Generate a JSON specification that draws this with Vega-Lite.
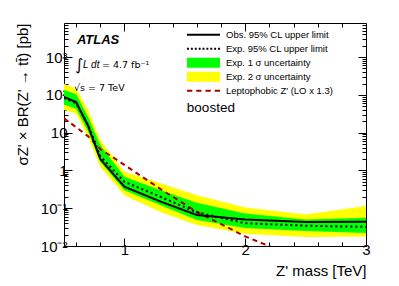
{
  "$schema": "https://vega.github.io/schema/vega-lite/v6.json",
  "width": 302,
  "height": 223,
  "autosize": {"type": "none"},
  "padding": {"left": 64, "top": 23, "right": 33, "bottom": 40},
  "background": "white",
  "config": {
    "font": "Liberation Sans",
    "view": {"stroke": "black", "strokeWidth": 1},
    "axis": {"grid": false, "domain": false, "tickColor": "black", "tickWidth": 1, "tickCount": 100, "labelColor": "black", "labelFont": "Liberation Sans", "labelFontSize": 15, "labelOverlap": false, "titleFont": "Liberation Sans", "titleFontSize": 15, "titleFontWeight": "normal", "titleColor": "black"}
  },
  "datasets": {
    "limits": [
      {"mass": 0.5, "obs": 88, "exp": 82, "g_lo": 55, "g_hi": 135, "y_lo": 40, "y_hi": 198},
      {"mass": 0.6, "obs": 65, "exp": 60, "g_lo": 43, "g_hi": 105, "y_lo": 32, "y_hi": 146},
      {"mass": 0.7, "obs": 15, "exp": 16, "g_lo": 10.5, "g_hi": 26, "y_lo": 7.5, "y_hi": 40},
      {"mass": 0.8, "obs": 2.0, "exp": 2.4, "g_lo": 1.7, "g_hi": 4.7, "y_lo": 1.25, "y_hi": 6.4},
      {"mass": 1.0, "obs": 0.37, "exp": 0.5, "g_lo": 0.3, "g_hi": 0.68, "y_lo": 0.22, "y_hi": 0.93},
      {"mass": 1.3, "obs": 0.15, "exp": 0.2, "g_lo": 0.12, "g_hi": 0.3, "y_lo": 0.08, "y_hi": 0.46},
      {"mass": 1.6, "obs": 0.066, "exp": 0.078, "g_lo": 0.049, "g_hi": 0.14, "y_lo": 0.036, "y_hi": 0.22},
      {"mass": 2.0, "obs": 0.05, "exp": 0.04, "g_lo": 0.03, "g_hi": 0.072, "y_lo": 0.021, "y_hi": 0.105},
      {"mass": 2.5, "obs": 0.043, "exp": 0.0345, "g_lo": 0.025, "g_hi": 0.05, "y_lo": 0.0174, "y_hi": 0.068},
      {"mass": 3.0, "obs": 0.044, "exp": 0.032, "g_lo": 0.022, "g_hi": 0.056, "y_lo": 0.0178, "y_hi": 0.115}
    ],
    "lepto": [
      {"mass": 0.5, "xsec": 24},
      {"mass": 0.6, "xsec": 14},
      {"mass": 0.7, "xsec": 8},
      {"mass": 0.8, "xsec": 3.7},
      {"mass": 1.0, "xsec": 1.4},
      {"mass": 1.3, "xsec": 0.32},
      {"mass": 1.6, "xsec": 0.08},
      {"mass": 2.0, "xsec": 0.018},
      {"mass": 2.5, "xsec": 0.004}
    ],
    "legend": [
      {"series": "Obs. 95% CL upper limit"},
      {"series": "Exp. 95% CL upper limit"},
      {"series": "Exp. 1 σ uncertainty"},
      {"series": "Exp. 2 σ uncertainty"},
      {"series": "Leptophobic Z' (LO x 1.3)"}
    ]
  },
  "resolve": {"axis": {"x": "independent", "y": "independent"}},
  "layer": [
    {
      "data": {"name": "limits"},
      "mark": {"type": "area", "color": "#ffff00", "clip": true},
      "encoding": {
        "x": {"field": "mass", "type": "quantitative", "scale": {"domain": [0.5, 3], "nice": false, "zero": false},
          "axis": {"orient": "bottom", "values": [1, 2, 3], "format": "d", "tickSize": -8, "labelPadding": 4, "labelFlush": false, "title": "Z' mass [TeV]", "titleX": 302, "titleY": 29, "titleAlign": "right", "titleBaseline": "alphabetic", "titleAnchor": "end"}},
        "y": {"field": "y_lo", "type": "quantitative", "scale": {"type": "log", "domain": [0.01, 8000], "nice": false},
          "axis": {"orient": "left", "values": [0.01, 0.1, 1, 10, 100, 1000], "tickSize": -8, "labelPadding": 5, "labelOverlap": false,
            "labelExpr": "datum.value < 0.05 ? '10⁻²' : (datum.value < 0.5 ? '10⁻¹' : (datum.value < 5 ? '1' : (datum.value < 50 ? '10' : (datum.value < 500 ? '10²' : '10³'))))",
            "title": "σZ' × BR(Z' → tt̄) [pb]", "titleAngle": -90, "titleX": -37, "titleY": 0, "titleAlign": "right", "titleBaseline": "alphabetic"}},
        "y2": {"field": "y_hi"}
      }
    },
    {
      "data": {"name": "limits"},
      "mark": {"type": "area", "color": "#00ff00", "clip": true},
      "encoding": {
        "x": {"field": "mass", "type": "quantitative",
          "axis": {"orient": "bottom", "values": [0.6, 0.8, 1.2, 1.4, 1.6, 1.8, 2.2, 2.4, 2.6, 2.8], "tickSize": -4, "labels": false, "title": null}},
        "y": {"field": "g_lo", "type": "quantitative",
          "axis": {"orient": "left", "values": [0.02,0.03,0.04,0.05,0.06,0.07,0.08,0.09,0.2,0.3,0.4,0.5,0.6,0.7,0.8,0.9,2,3,4,5,6,7,8,9,20,30,40,50,60,70,80,90,200,300,400,500,600,700,800,900,2000,3000,4000,5000,6000,7000], "tickSize": -4, "labels": false, "title": null}},
        "y2": {"field": "g_hi"}
      }
    },
    {
      "data": {"name": "lepto"},
      "mark": {"type": "line", "color": "#aa0000", "strokeWidth": 2, "strokeDash": [5, 4], "clip": true},
      "encoding": {
        "x": {"field": "mass", "type": "quantitative",
          "axis": {"orient": "top", "values": [1, 2, 3], "tickSize": -8, "labels": false, "title": null}},
        "y": {"field": "xsec", "type": "quantitative",
          "axis": {"orient": "right", "values": [0.01, 0.1, 1, 10, 100, 1000], "tickSize": -8, "labels": false, "title": null}}
      }
    },
    {
      "data": {"name": "limits"},
      "mark": {"type": "line", "color": "black", "strokeWidth": 2, "strokeDash": [2, 3], "clip": true},
      "encoding": {
        "x": {"field": "mass", "type": "quantitative",
          "axis": {"orient": "top", "values": [0.6, 0.8, 1.2, 1.4, 1.6, 1.8, 2.2, 2.4, 2.6, 2.8], "tickSize": -4, "labels": false, "title": null}},
        "y": {"field": "exp", "type": "quantitative",
          "axis": {"orient": "right", "values": [0.02,0.03,0.04,0.05,0.06,0.07,0.08,0.09,0.2,0.3,0.4,0.5,0.6,0.7,0.8,0.9,2,3,4,5,6,7,8,9,20,30,40,50,60,70,80,90,200,300,400,500,600,700,800,900,2000,3000,4000,5000,6000,7000], "tickSize": -4, "labels": false, "title": null}}
      }
    },
    {
      "data": {"name": "limits"},
      "mark": {"type": "line", "color": "black", "strokeWidth": 2, "clip": true},
      "encoding": {
        "x": {"field": "mass", "type": "quantitative", "axis": null},
        "y": {"field": "obs", "type": "quantitative", "axis": null}
      }
    },
    {
      "data": {"name": "legend"},
      "mark": {"type": "point", "filled": true, "clip": true},
      "encoding": {
        "x": {"datum": 0.1, "type": "quantitative", "axis": null},
        "y": {"datum": 1, "type": "quantitative", "axis": null},
        "color": {"field": "series", "type": "nominal",
          "scale": {"domain": ["Obs. 95% CL upper limit", "Exp. 95% CL upper limit", "Exp. 1 σ uncertainty", "Exp. 2 σ uncertainty", "Leptophobic Z' (LO x 1.3)"], "range": ["#000000", "#000000", "#00ff00", "#ffff00", "#aa0000"]},
          "legend": {"title": null, "orient": "none", "legendX": 123, "legendY": 5, "symbolSize": 1089, "symbolStrokeWidth": 0, "symbolOpacity": 1, "clipHeight": 13.6, "rowPadding": 0, "padding": 0, "labelFont": "Liberation Sans", "labelFontSize": 9.5, "labelColor": "black", "labelOffset": 6, "labelLimit": 220}},
        "shape": {"field": "series", "type": "nominal",
          "scale": {"domain": ["Obs. 95% CL upper limit", "Exp. 95% CL upper limit", "Exp. 1 σ uncertainty", "Exp. 2 σ uncertainty", "Leptophobic Z' (LO x 1.3)"],
            "range": [
              "M-1,-0.06H1V0.06H-1Z",
              "M-1,-0.06h0.12v0.12h-0.12Z M-0.765,-0.06h0.12v0.12h-0.12Z M-0.53,-0.06h0.12v0.12h-0.12Z M-0.295,-0.06h0.12v0.12h-0.12Z M-0.06,-0.06h0.12v0.12h-0.12Z M0.175,-0.06h0.12v0.12h-0.12Z M0.41,-0.06h0.12v0.12h-0.12Z M0.645,-0.06h0.12v0.12h-0.12Z M0.88,-0.06h0.12v0.12h-0.12Z",
              "M-1,-0.3H1V0.3H-1Z",
              "M-1,-0.3H1V0.3H-1Z",
              "M-1,-0.06h0.32v0.12h-0.32Z M-0.44,-0.06h0.32v0.12h-0.32Z M0.12,-0.06h0.32v0.12h-0.32Z M0.68,-0.06h0.32v0.12h-0.32Z"
            ]},
          "legend": {"title": null, "orient": "none", "legendX": 123, "legendY": 5, "symbolSize": 1089, "symbolStrokeWidth": 0, "symbolOpacity": 1, "clipHeight": 13.6, "rowPadding": 0, "padding": 0, "labelFont": "Liberation Sans", "labelFontSize": 9.5, "labelColor": "black", "labelOffset": 6, "labelLimit": 220}}
      }
    },
    {
      "data": {"values": [{}]},
      "mark": {"type": "text", "text": "ATLAS", "font": "Liberation Sans", "fontStyle": "italic", "fontWeight": "bold", "fontSize": 13, "align": "left", "baseline": "alphabetic", "color": "black"},
      "encoding": {"x": {"datum": 0.607, "type": "quantitative", "axis": null}, "y": {"datum": 2224, "type": "quantitative", "axis": null}}
    },
    {
      "data": {"values": [{}]},
      "mark": {"type": "text", "text": "∫", "font": "DejaVu Sans", "fontSize": 16, "align": "left", "baseline": "alphabetic", "color": "black"},
      "encoding": {"x": {"datum": 0.591, "type": "quantitative", "axis": null}, "y": {"datum": 456, "type": "quantitative", "axis": null}}
    },
    {
      "data": {"values": [{}]},
      "mark": {"type": "text", "text": "L dt", "font": "Liberation Sans", "fontStyle": "italic", "fontSize": 10, "align": "left", "baseline": "alphabetic", "color": "black"},
      "encoding": {"x": {"datum": 0.657, "type": "quantitative", "axis": null}, "y": {"datum": 515, "type": "quantitative", "axis": null}}
    },
    {
      "data": {"values": [{}]},
      "mark": {"type": "text", "text": "= 4.7 fb⁻¹", "font": "DejaVu Sans", "fontSize": 9.5, "align": "left", "baseline": "alphabetic", "color": "black"},
      "encoding": {"x": {"datum": 0.814, "type": "quantitative", "axis": null}, "y": {"datum": 515, "type": "quantitative", "axis": null}}
    },
    {
      "data": {"values": [{}]},
      "mark": {"type": "text", "text": "√s = 7 TeV", "font": "DejaVu Sans", "fontSize": 9.5, "align": "left", "baseline": "alphabetic", "color": "black"},
      "encoding": {"x": {"datum": 0.583, "type": "quantitative", "axis": null}, "y": {"datum": 127, "type": "quantitative", "axis": null}}
    },
    {
      "data": {"values": [{}]},
      "mark": {"type": "text", "text": "boosted", "font": "Liberation Sans", "fontSize": 13.5, "align": "left", "baseline": "alphabetic", "color": "black"},
      "encoding": {"x": {"datum": 1.517, "type": "quantitative", "axis": null}, "y": {"datum": 35.2, "type": "quantitative", "axis": null}}
    }
  ]
}
